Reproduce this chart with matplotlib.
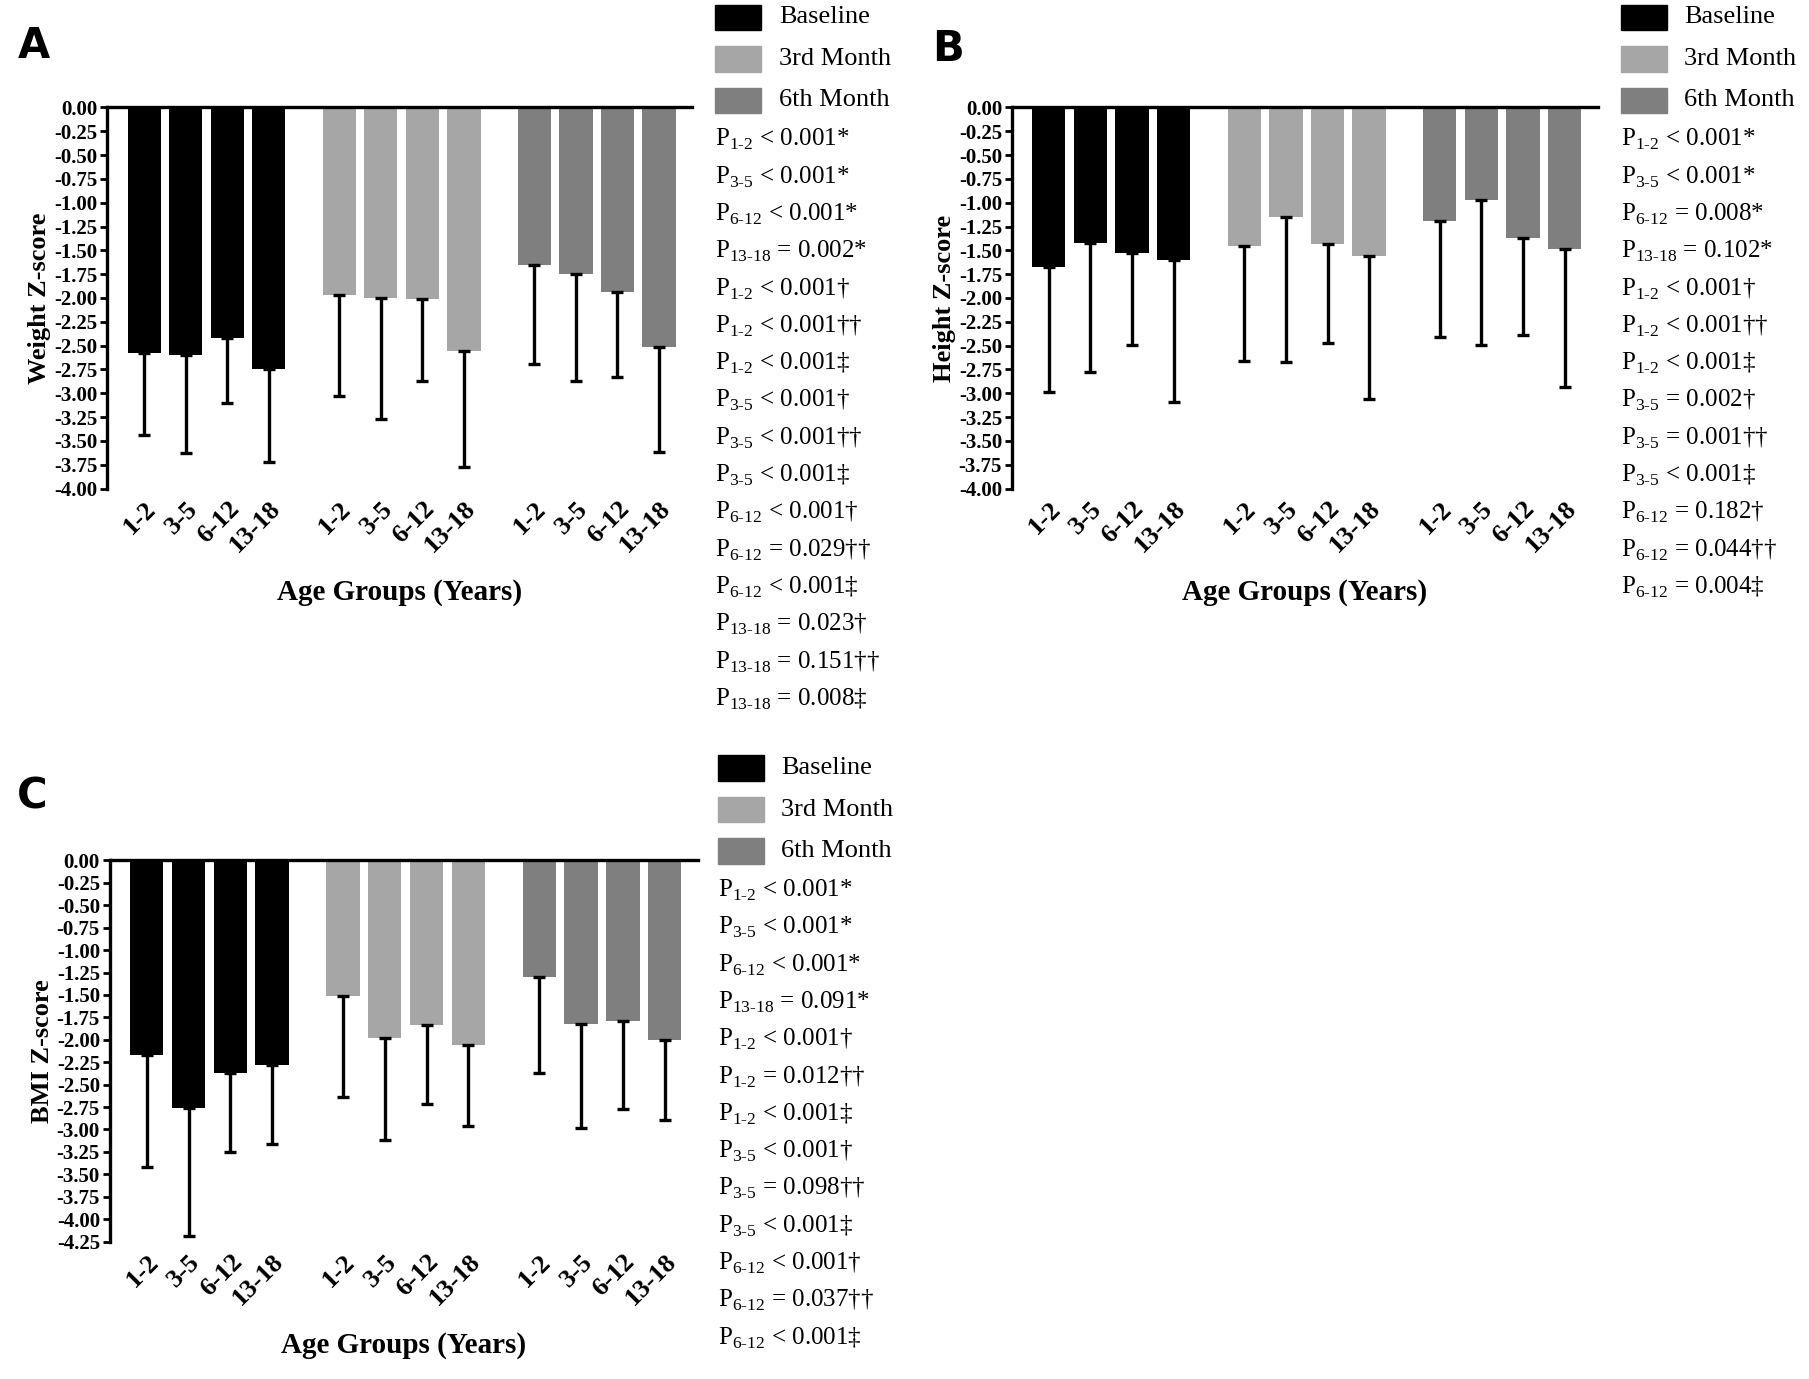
import matplotlib
matplotlib.use("Agg")
import matplotlib.pyplot as plt
import numpy as np
from matplotlib.patches import Rectangle

plt.rcParams['font.family'] = ['Liberation Serif', 'DejaVu Serif']
plt.rcParams['mathtext.fontset'] = 'custom'
plt.rcParams['mathtext.rm'] = 'Liberation Serif'

ages = ["1-2", "3-5", "6-12", "13-18"]
series = ["Baseline", "3rd Month", "6th Month"]
colors = ["#000000", "#a6a6a6", "#7f7f7f"]

weight_mean = [[-2.58, -2.60, -2.42, -2.75], [-1.97, -2.00, -2.01, -2.56], [-1.65, -1.75, -1.94, -2.51]]
weight_low = [[-3.44, -3.63, -3.10, -3.72], [-3.03, -3.27, -2.87, -3.77], [-2.69, -2.87, -2.83, -3.62]]
height_mean = [[-1.67, -1.42, -1.53, -1.60], [-1.45, -1.15, -1.43, -1.56], [-1.19, -0.97, -1.37, -1.49]]
height_low = [[-2.99, -2.78, -2.49, -3.09], [-2.66, -2.67, -2.47, -3.06], [-2.41, -2.49, -2.39, -2.93]]
bmi_mean = [[-2.17, -2.76, -2.37, -2.28], [-1.51, -1.98, -1.84, -2.06], [-1.30, -1.82, -1.79, -2.00]]
bmi_low = [[-3.42, -4.19, -3.25, -3.16], [-2.64, -3.12, -2.72, -2.96], [-2.37, -2.98, -2.77, -2.89]]

notes_a = [("1-2", "< 0.001*"), ("3-5", "< 0.001*"), ("6-12", "< 0.001*"), ("13-18", "= 0.002*"),
           ("1-2", "< 0.001†"), ("1-2", "< 0.001††"), ("1-2", "< 0.001‡"),
           ("3-5", "< 0.001†"), ("3-5", "< 0.001††"), ("3-5", "< 0.001‡"),
           ("6-12", "< 0.001†"), ("6-12", "= 0.029††"), ("6-12", "< 0.001‡"),
           ("13-18", "= 0.023†"), ("13-18", "= 0.151††"), ("13-18", "= 0.008‡")]
notes_b = [("1-2", "< 0.001*"), ("3-5", "< 0.001*"), ("6-12", "= 0.008*"), ("13-18", "= 0.102*"),
           ("1-2", "< 0.001†"), ("1-2", "< 0.001††"), ("1-2", "< 0.001‡"),
           ("3-5", "= 0.002†"), ("3-5", "= 0.001††"), ("3-5", "< 0.001‡"),
           ("6-12", "= 0.182†"), ("6-12", "= 0.044††"), ("6-12", "= 0.004‡")]
notes_c = [("1-2", "< 0.001*"), ("3-5", "< 0.001*"), ("6-12", "< 0.001*"), ("13-18", "= 0.091*"),
           ("1-2", "< 0.001†"), ("1-2", "= 0.012††"), ("1-2", "< 0.001‡"),
           ("3-5", "< 0.001†"), ("3-5", "= 0.098††"), ("3-5", "< 0.001‡"),
           ("6-12", "< 0.001†"), ("6-12", "= 0.037††"), ("6-12", "< 0.001‡")]

W, H = 1568, 1194  # layout reference grid


def fx(x):
    return x / W


def fy(y):
    return 1 - y / H


fig = plt.figure(figsize=(18.09, 13.79), dpi=100)


def panel(rect, means, lows, ylabel, ymin, letter, letter_xy, notes, note_x, note_y0, note_dy):
    ax = fig.add_axes(rect)
    pos, labels = [], []
    for g in range(3):
        x = np.arange(4) + g * 4.7
        m = np.array(means[g])
        err = m - np.array(lows[g])
        ax.bar(x, m, width=0.8, color=colors[g], zorder=2)
        ax.errorbar(x, m, yerr=[err, np.zeros(4)], fmt='none', ecolor='black',
                    elinewidth=2.4, capsize=4, capthick=2.4, zorder=3)
        pos += list(x)
        labels += ages
    ax.set_xlim(-0.89, 13.2)
    ax.set_ylim(ymin, 0)
    ticks = np.arange(0, ymin - 0.01, -0.25)
    ax.set_yticks(ticks)
    ax.set_yticklabels([f"{v:.2f}" for v in ticks], fontsize=15, fontweight='bold')
    ax.set_xticks(pos)
    ax.set_xticklabels(labels, rotation=45, ha='right', rotation_mode='anchor', fontsize=19, fontweight='bold')
    ax.tick_params(axis='x', length=0, pad=6)
    ax.tick_params(axis='y', width=2, length=5, pad=2)
    ax.spines['bottom'].set_visible(False)
    ax.spines['right'].set_visible(False)
    for s in ['left', 'top']:
        ax.spines[s].set_linewidth(2.4)
    ax.set_ylabel(ylabel, fontsize=19, fontweight='bold', labelpad=2)
    ax.set_xlabel("Age Groups (Years)", fontsize=21, fontweight='bold', labelpad=16)
    fig.text(fx(letter_xy[0]), fy(letter_xy[1]), letter, fontsize=30, fontweight='bold',
             family='DejaVu Sans', va='center')
    # legend
    for i, name in enumerate(series):
        yy = note_y0 - 106 + i * 36
        fig.patches.append(Rectangle((fx(note_x), fy(yy + 11)), fx(40), 22 / H,
                                     transform=fig.transFigure, color=colors[i]))
        fig.text(fx(note_x + 55), fy(yy), name, fontsize=19, va='center')
    for i, (sub, val) in enumerate(notes):
        fig.text(fx(note_x), fy(note_y0 + i * note_dy),
                 r"P$_{\mathrm{" + sub.replace("-", "\u2010") + "}}$ " + val,
                 fontsize=18, va='center')
    return ax


panel([fx(93), fy(423), fx(600 - 93), (423 - 93) / H], weight_mean, weight_low,
      "Weight Z-score", -4.0, "A", (15, 40), notes_a, 620, 121, 32.3)
panel([fx(877), fy(423), fx(1385 - 877), (423 - 93) / H], height_mean, height_low,
      "Height Z-score", -4.0, "B", (808, 42), notes_b, 1405, 121, 32.3)
panel([fx(95), fy(1075), fx(605 - 95), (1075 - 745) / H], bmi_mean, bmi_low,
      "BMI Z-score", -4.25, "C", (15, 690), notes_c, 622, 771, 32.3)

fig.savefig("out.png", dpi=100)
